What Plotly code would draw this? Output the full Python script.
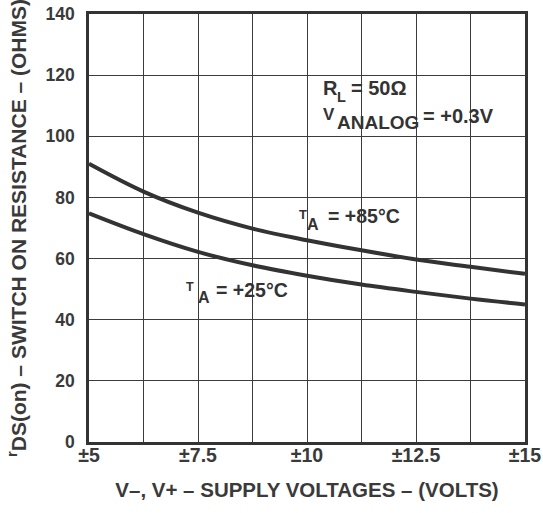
import plotly.graph_objects as go

# Data
supply_v = [5, 6.25, 7.5, 8.75, 10, 11.25, 12.5, 13.75, 15]
r_85c = [91.0, 81.9, 75.0, 69.8, 66.0, 62.7, 59.7, 57.3, 55.0]
r_25c = [74.8, 68.0, 62.2, 57.8, 54.4, 51.5, 49.1, 46.9, 45.0]

x_tickvals = [5, 6.25, 7.5, 8.75, 10, 11.25, 12.5, 13.75, 15]
x_ticktext = ["±5", "", "±7.5", "", "±10", "", "±12.5", "", "±15"]
y_tickvals = [0, 20, 40, 60, 80, 100, 120, 140]

ink = "#333333"
txt = "#3a3a3a"
font_family = "Liberation Sans, Arial, Helvetica, sans-serif"

# layout geometry (pixels in a 543x513 page)
W, H = 543, 513
ML, MR, MT, MB = 89, 18, 14, 71
PW, PH = W - ML - MR, H - MT - MB

fig = go.Figure()
fig.add_trace(go.Scatter(x=supply_v, y=r_85c, mode="lines",
                         line=dict(color=ink, width=4, shape="spline"),
                         name="TA=+85°C", showlegend=False))
fig.add_trace(go.Scatter(x=supply_v, y=r_25c, mode="lines",
                         line=dict(color=ink, width=4, shape="spline"),
                         name="TA=+25°C", showlegend=False))

fig.update_layout(
    width=W, height=H,
    margin=dict(l=ML, r=MR, t=MT, b=MB),
    paper_bgcolor="white", plot_bgcolor="white",
    font=dict(family=font_family, color=ink),
    xaxis=dict(range=[5, 15], tickvals=x_tickvals, ticktext=x_ticktext,
               showgrid=True, gridcolor="#3c3c3c", gridwidth=1.3,
               showline=True, linecolor=ink, linewidth=2.5, mirror=True,
               zeroline=False, ticks="", ticklen=0, ticklabelstandoff=-6, automargin=False,
               tickfont=dict(size=19.5, weight="bold", color=txt),
               title=dict(text="V–, V+ – SUPPLY VOLTAGES – (VOLTS)",
                          font=dict(size=20.5, weight="bold", color=txt), standoff=18)),
    yaxis=dict(range=[0, 140], tickvals=y_tickvals,
               showgrid=True, gridcolor="#3c3c3c", gridwidth=1.3,
               showline=True, linecolor=ink, linewidth=2.5, mirror=True,
               zeroline=False, ticks="", ticklabelstandoff=8, automargin=False,
               tickfont=dict(size=17.5, weight="bold", color=txt),
               title=dict(text="<sup>r</sup>DS(on) – SWITCH ON RESISTANCE – (OHMS)",
                          font=dict(size=21, weight="bold", color=txt), standoff=14)),
)


def place(text, x_left, y_center, size):
    fig.add_annotation(x=(x_left - ML - 1) / PW, y=(H - MB - y_center) / PH,
                       xref="paper", yref="paper", xanchor="left", yanchor="middle",
                       text=text, showarrow=False,
                       font=dict(size=size, color=ink, family=font_family, weight="bold"))


# R_L = 50 Ohm
place("R", 322, 87.5, 20)
place("L", 336, 97, 14.5)
place("= 50Ω", 350, 88, 20)
# V_ANALOG = +0.3V
place("V", 322, 114, 17)
place("ANALOG", 336, 122.5, 19)
place("= +0.3V", 422, 116, 20)
# T_A = +85C
place("T", 298, 214.5, 13)
place("A", 306, 224, 16)
place("= +85°C", 327, 215.5, 19.5)
# T_A = +25C
place("T", 185, 287, 12.5)
place("A", 197, 297.5, 16)
place("= +25°C", 215, 290, 19.5)

fig.write_html("out.html")
